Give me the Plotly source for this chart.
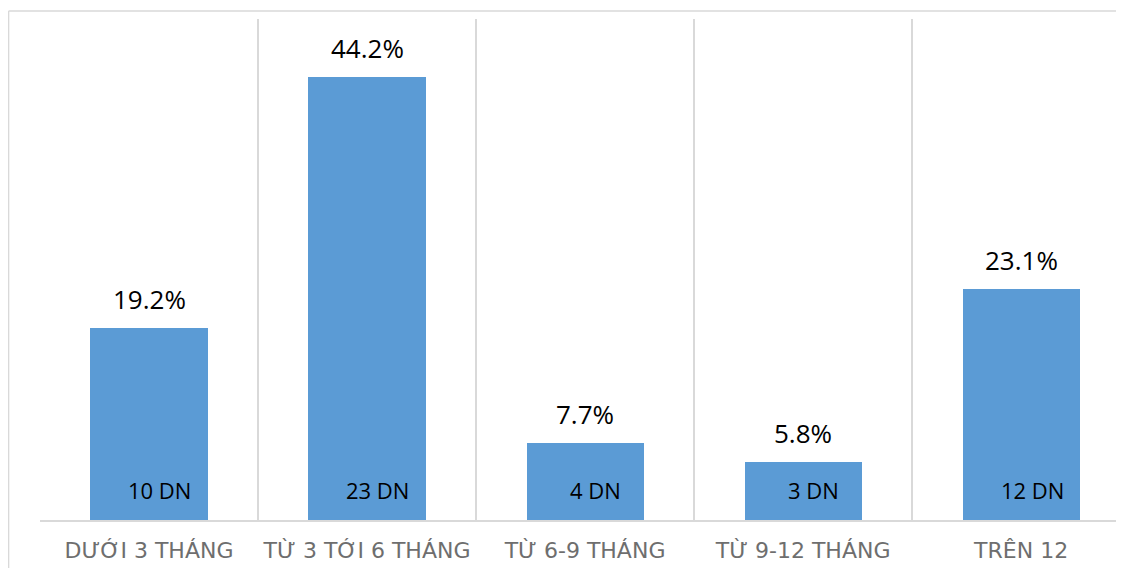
import plotly.graph_objects as go

categories = ["DƯỚI 3 THÁNG", "TỪ 3 TỚI 6 THÁNG", "TỪ 6-9 THÁNG", "TỪ 9-12 THÁNG", "TRÊN 12"]
percents = [19.2, 44.2, 7.7, 5.8, 23.1]
counts = [10, 23, 4, 3, 12]
count_labels = [f"{c} DN" for c in counts]
pct_labels = [f"{p:.1f}%" for p in percents]

x_pos = list(range(len(categories)))
boundaries = [i - 0.5 for i in range(len(categories) + 1)]

BLUE = "#5b9bd5"
GRID = "#d9d9d9"
FONT = "Open Sans"

fig = go.Figure()
fig.add_trace(go.Bar(
    x=x_pos, y=percents, width=0.537,
    marker=dict(color=BLUE, line=dict(width=0)),
    hoverinfo="skip",
))

annotations = []
for xi, p, lab in zip(x_pos, percents, pct_labels):
    annotations.append(dict(
        x=xi, y=p, xref="x", yref="y", text=lab, showarrow=False,
        yanchor="middle", yshift=29,
        font=dict(family=FONT, size=26, color="#000000"),
    ))
for xi, lab in zip(x_pos, count_labels):
    annotations.append(dict(
        x=xi + 0.05, y=3, xref="x", yref="y", text=lab, showarrow=False,
        yanchor="middle",
        font=dict(family=FONT, size=22, color="#000000"),
    ))

fig.update_layout(
    width=1116, height=560,
    margin=dict(l=32, r=0, t=11, b=48),
    paper_bgcolor="white", plot_bgcolor="white",
    showlegend=False,
    bargap=0,
    annotations=annotations,
    xaxis=dict(
        range=[-0.5, 4.472],
        tickmode="array", tickvals=x_pos, ticktext=categories,
        tickangle=0,
        showgrid=False, zeroline=False,
        showline=True, linecolor=GRID, linewidth=2,
        ticks="", ticklabelstandoff=10,
        tickfont=dict(family="DejaVu Sans", size=22, color="#6e6e6e"),
        minor=dict(tickmode="array", tickvals=boundaries, showgrid=True,
                   gridcolor=GRID, gridwidth=2, ticks=""),
        fixedrange=True,
    ),
    yaxis=dict(
        range=[0, 50], showgrid=False, zeroline=False, showline=False,
        showticklabels=False, ticks="", fixedrange=True,
    ),
    shapes=[
        dict(type="line", xref="paper", yref="paper",
             x0=-0.029, x1=1.01, y0=1.016, y1=1.016,
             line=dict(color=GRID, width=1.5)),
        dict(type="line", xref="paper", yref="paper",
             x0=-0.029, x1=-0.029, y0=1.016, y1=-0.1,
             line=dict(color=GRID, width=1.5)),
    ],
)

fig.write_html("out.html")
